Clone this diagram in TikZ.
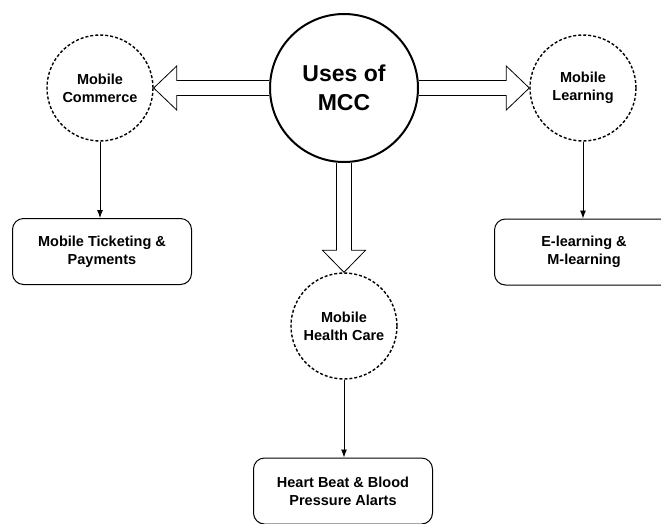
\documentclass[tikz,border=0pt]{standalone}
\usepackage{fontspec}
\setmainfont{Liberation Sans}
\usetikzlibrary{calc,arrows.meta}
\begin{document}
\begin{tikzpicture}[x=1pt,y=-1pt,
  hub/.style={circle,draw,line width=2pt,minimum size=148pt,inner sep=0pt,
    align=center,font=\fontsize{23}{29}\selectfont\bfseries},
  area/.style={circle,draw,dashed,dash pattern=on 3pt off 2pt,line width=1.4pt,
    minimum size=106pt,inner sep=0pt,align=center,
    font=\fontsize{14.5}{18}\selectfont\bfseries},
  usebox/.style={draw,rounded corners=11pt,line width=1pt,minimum width=179pt,
    minimum height=66pt,align=center,font=\fontsize{14.5}{18}\selectfont\bfseries},
  blk/.style={draw,line width=0.8pt,fill=white},
  thin/.style={draw,line width=0.9pt,-{Latex[length=8pt,width=6pt]}}]
\useasboundingbox (0,0) rectangle (661,523);

% central topic and the three application areas
\node[hub]  (mcc) at (344,88)  {Uses of\\MCC};
\node[area] (com) at (100,88)  {Mobile\\Commerce};
\node[area] (lrn) at (583,88)  {Mobile\\Learning};
\node[area] (hlt) at (344,326) {Mobile\\Health Care};

% examples for each area
\node[usebox] (tkt) at (102,251.5) {Mobile Ticketing \&\\Payments};
\node[usebox] (elr) at (584,252)   {E-learning \&\\M-learning};
\node[usebox] (hrt) at (343,491)   {Heart Beat \& Blood\\Pressure Alarts};

% hollow block arrows from the hub
\draw[blk] ($(mcc.west)+(0,-7.5)$) -- ($(com.east)+(23,-7.5)$) -- ($(com.east)+(23,-22)$)
  -- (com.east) -- ($(com.east)+(23,22)$) -- ($(com.east)+(23,7.5)$) -- ($(mcc.west)+(0,7.5)$);
\draw[blk] ($(mcc.east)+(0,-7.5)$) -- ($(lrn.west)+(-23,-7.5)$) -- ($(lrn.west)+(-23,-22)$)
  -- (lrn.west) -- ($(lrn.west)+(-23,22)$) -- ($(lrn.west)+(-23,7.5)$) -- ($(mcc.east)+(0,7.5)$);
\draw[blk] ($(mcc.south)+(-7.5,0)$) -- ($(hlt.north)+(-7.5,-22)$) -- ($(hlt.north)+(-21.5,-22)$)
  -- (hlt.north) -- ($(hlt.north)+(21.5,-22)$) -- ($(hlt.north)+(7.5,-22)$) -- ($(mcc.south)+(7.5,0)$);

% plain arrows down to the examples
\draw[thin] (com.south) -- (com.south |- tkt.north);
\draw[thin] (lrn.south) -- (lrn.south |- elr.north);
\draw[thin] (hlt.south) -- (hlt.south |- hrt.north);
\end{tikzpicture}
\end{document}
